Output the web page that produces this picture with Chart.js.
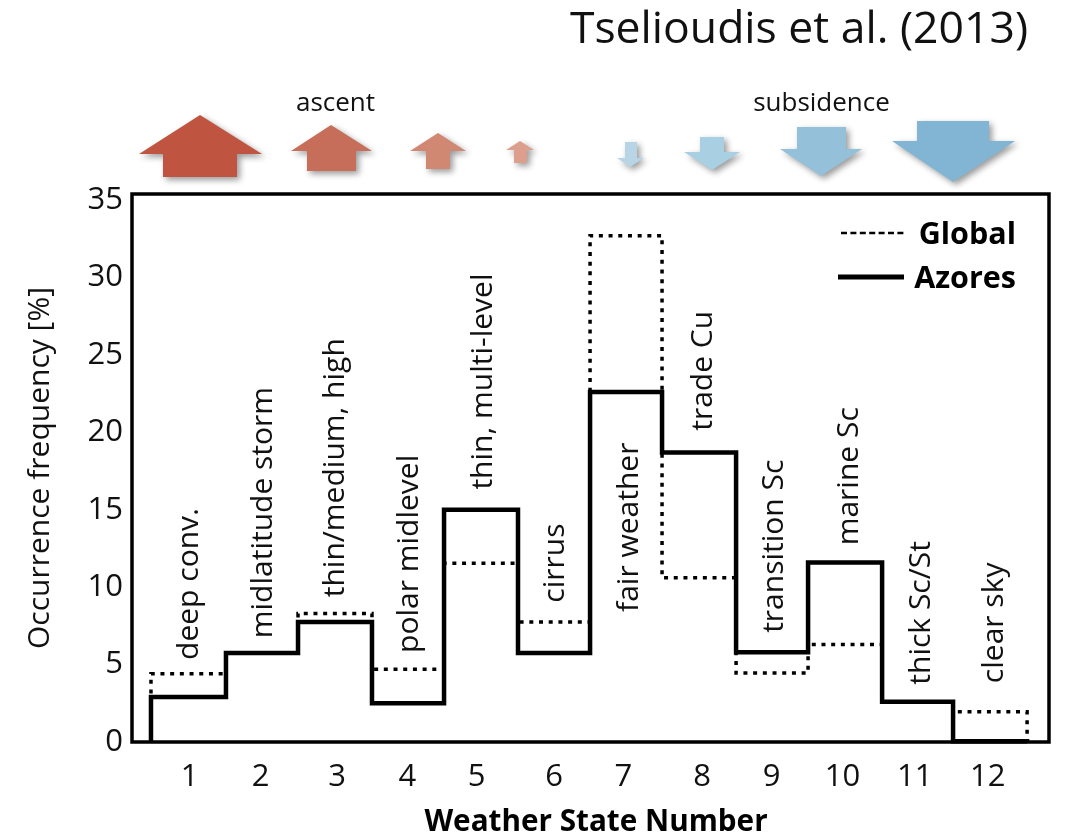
<!DOCTYPE html>
<html><head><meta charset="utf-8">
<style>html,body{margin:0;padding:0;background:#fff}canvas{display:block}</style>
<script src="https://cdn.jsdelivr.net/npm/chart.js@4"></script>
</head><body><canvas id="c" width="1066" height="834"></canvas>
<script>
const weatherStates = [1,2,3,4,5,6,7,8,9,10,11,12];
const stateEdges = [0.5,1.527,2.514,3.527,4.514,5.527,6.514,7.5,8.514,9.5,10.514,11.486,12.5];
const stateNames = ["deep conv.","midlatitude storm","thin/medium, high","polar midlevel","thin, multi-level","cirrus","fair weather","trade Cu","transition Sc","marine Sc","thick Sc/St","clear sky"];
const globalFreq = [4.4,5.75,8.3,4.7,11.55,7.75,32.7,10.6,4.45,6.3,2.6,1.95];
const azoresFreq = [2.9,5.75,7.75,2.5,15.0,5.75,22.6,18.7,5.8,11.6,2.6,0.05];
const yTicks = [0,5,10,15,20,25,30,35];
// placement only (not data)
const xTickPositions = [1.03,2.0,3.05,4.01,4.96,6.02,6.97,8.05,9.0,9.97,10.96,11.96];
const nameAnchorY = [5.3,6.7,9.35,5.75,16.3,9.0,8.4,20.1,7.05,12.7,3.7,3.8];
const nameOffsetX = [10.5,11.5,10.5,11.5,12.5,11.5,12.5,13.5,11.5,13.5,12.5,12.5];

const FONT = '"Open Sans"';
const edgeSeries = vals => [{x:stateEdges[0],y:0}, ...vals.map((v,i)=>({x:stateEdges[i],y:v})), {x:stateEdges[12],y:0}];

const upArrows = [
 {tip:[200,115],wy:154,wl:139,wr:262,bl:163,br:237,end:177,c:'#bf5540'},
 {tip:[331,125],wy:151,wl:291,wr:372,bl:307,br:356,end:171,c:'#c76e5a'},
 {tip:[438,133],wy:151,wl:410,wr:466,bl:426,br:450,end:169,c:'#d08873'},
 {tip:[520,141],wy:150,wl:506,wr:534,bl:514,br:527,end:163,c:'#dc9f8d'}];
const downArrows = [
 {tip:[630,167],wy:158,wl:617,wr:644,bl:625,br:637,end:142,c:'#b8d5e6'},
 {tip:[712,170],wy:152,wl:684,wr:740,bl:700,br:724,end:137,c:'#a9cfe2'},
 {tip:[821,176],wy:149,wl:780,wr:862,bl:797,br:846,end:127,c:'#95c0d9'},
 {tip:[953,182],wy:141,wl:892,wr:1015,bl:917,br:989,end:121,c:'#82b4d3'}];

const decor = {
 id:'decor',
 afterDatasetsDraw(chart){
  const {ctx,chartArea:a,scales:{x,y}} = chart;
  ctx.save();
  ctx.strokeStyle='#000'; ctx.lineWidth=3.5; ctx.lineJoin='miter';
  ctx.strokeRect(a.left,a.top,a.right-a.left,a.bottom-a.top);
  ctx.fillStyle='#111'; ctx.font='30px '+FONT; ctx.textBaseline='alphabetic'; ctx.textAlign='left';
  stateNames.forEach((t,i)=>{
    ctx.save();
    ctx.translate(x.getPixelForValue(weatherStates[i])+nameOffsetX[i], y.getPixelForValue(nameAnchorY[i]));
    ctx.rotate(-Math.PI/2);
    ctx.fillText(t,0,0);
    ctx.restore();
  });
  ctx.strokeStyle='#000';
  ctx.lineWidth=2.5; ctx.setLineDash([6,3.4]);
  ctx.beginPath(); ctx.moveTo(841,233); ctx.lineTo(904,233); ctx.stroke();
  ctx.setLineDash([]); ctx.lineWidth=5;
  ctx.beginPath(); ctx.moveTo(838,277); ctx.lineTo(904,277); ctx.stroke();
  ctx.fillStyle='#000'; ctx.font='bold 30.5px '+FONT; ctx.textBaseline='middle'; ctx.textAlign='right';
  ctx.fillText('Global',1016,235);
  ctx.fillText('Azores',1016,279);
  ctx.font='bold 29.7px '+FONT; ctx.textAlign='center';
  ctx.fillText('Weather State Number',596,823);
  ctx.font='44.5px '+FONT; ctx.fillStyle='#111'; ctx.textAlign='right';
  ctx.fillText('Tselioudis et al. (2013)',1028,30);
  ctx.font='26px '+FONT; ctx.textAlign='center';
  ctx.fillText('ascent',335.5,104);
  ctx.fillText('subsidence',821.5,104);
  [...upArrows,...downArrows].forEach(p=>{
    ctx.save();
    ctx.shadowColor='rgba(0,0,0,0.4)'; ctx.shadowBlur=6; ctx.shadowOffsetX=3; ctx.shadowOffsetY=3;
    ctx.fillStyle=p.c;
    ctx.beginPath();
    ctx.moveTo(p.tip[0],p.tip[1]);
    ctx.lineTo(p.wr,p.wy); ctx.lineTo(p.br,p.wy); ctx.lineTo(p.br,p.end);
    ctx.lineTo(p.bl,p.end); ctx.lineTo(p.bl,p.wy); ctx.lineTo(p.wl,p.wy);
    ctx.closePath(); ctx.fill();
    ctx.restore();
  });
  ctx.restore();
 }
};

new Chart(document.getElementById('c'),{
 type:'line',
 data:{datasets:[
  {label:'Global',data:edgeSeries(globalFreq),stepped:true,borderColor:'#000',borderWidth:3.5,borderDash:[4,5.7],pointRadius:0,fill:false,clip:false,order:2},
  {label:'Azores',data:edgeSeries(azoresFreq),stepped:true,borderColor:'#000',borderWidth:4.5,pointRadius:0,fill:false,clip:false,order:1}
 ]},
 options:{
  responsive:false,animation:false,
  layout:{padding:{top:194,right:17,left:0,bottom:0}},
  plugins:{legend:{display:false},tooltip:{enabled:false},title:{display:false}},
  scales:{
   x:{type:'linear',min:0.24,max:12.8,
      afterBuildTicks(s){s.ticks=xTickPositions.map(v=>({value:v}));},
      afterFit(s){s.height=92;},
      grid:{display:false,drawTicks:false},border:{display:false},
      ticks:{autoSkip:false,maxRotation:0,padding:17,color:'#111',font:{family:'Open Sans',size:31},
             callback:(v,i)=>String(weatherStates[i])}},
   y:{min:0,max:35.39,
      afterBuildTicks(s){s.ticks=yTicks.map(v=>({value:v}));},
      afterFit(s){s.width=132;},
      grid:{display:false,drawTicks:false},border:{display:false},
      title:{display:true,text:'Occurrence frequency [%]',color:'#111',font:{family:'Open Sans',size:30},padding:{top:22,bottom:0}},
      ticks:{padding:9,color:'#111',font:{family:'Open Sans',size:31}}}
  }
 },
 plugins:[decor]
});
</script></body></html>
